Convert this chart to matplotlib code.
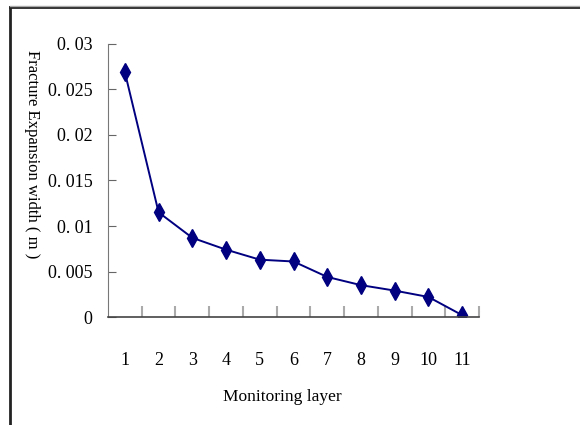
import numpy as np
from matplotlib import pyplot as plt
from matplotlib.lines import Line2D

# monitoring layers and measured fracture expansion width (m)
layers = [1, 2, 3, 4, 5, 6, 7, 8, 9, 10, 11]
width = [0.0269, 0.0115, 0.0087, 0.0074, 0.0063, 0.0061, 0.0044, 0.0035, 0.0029, 0.0022, 0.0002]
yticks = [0, 0.005, 0.01, 0.015, 0.02, 0.025, 0.03]
ytick_labels = ['0', '0. 005', '0. 01', '0. 015', '0. 02', '0. 025', '0. 03']

plt.rcParams['font.family'] = ['Liberation Serif', 'DejaVu Serif']

fig = plt.figure(figsize=(5.8, 4.25), dpi=100)
ax = fig.add_axes([0.1862, 0.2541, 0.6398, 0.6424])

ax.plot(layers, width, '-', color='#000080', lw=1.4,
        marker='d', markersize=9, markerfacecolor='#000080', markeredgecolor='#000080')

ax.set_xlim(0.5, 11.5)
ax.set_ylim(0, 0.03)
ax.set_xticks(layers)
ax.set_xticklabels([str(l) for l in layers], fontsize=13)
ax.set_xticks(np.arange(1.5, 12, 1), minor=True)
ax.tick_params(axis='x', which='major', length=0, pad=25)
ax.tick_params(axis='x', which='minor', direction='in', length=8, color='#aaaaaa', width=1.5)
ax.set_yticks(yticks)
ax.set_yticklabels(ytick_labels, fontsize=13)
ax.tick_params(axis='y', direction='in', length=6, color='#666666', pad=11)

for s in ['top', 'right']:
    ax.spines[s].set_visible(False)
ax.spines['left'].set_color('#777777')
ax.spines['bottom'].set_color('#444444')
ax.spines['bottom'].set_linewidth(1.2)

fig.text(0.056, 0.637, 'Fracture Expansion width ( m )', rotation=270,
         ha='center', va='center', fontsize=12)
fig.text(0.486, 0.066, 'Monitoring layer', ha='center', va='center', fontsize=12.5)

# outer frame (left and top edges only)
fig.add_artist(Line2D([0.0172, 0.0172], [0, 0.9835], color='#222222', lw=2))
fig.add_artist(Line2D([0.0172, 1], [0.9835, 0.9835], color='#222222', lw=2))
fig.add_artist(Line2D([0.0172, 1], [0.9870, 0.9870], color='#aaaaaa', lw=1))

fig.savefig('out.png', dpi=100)
